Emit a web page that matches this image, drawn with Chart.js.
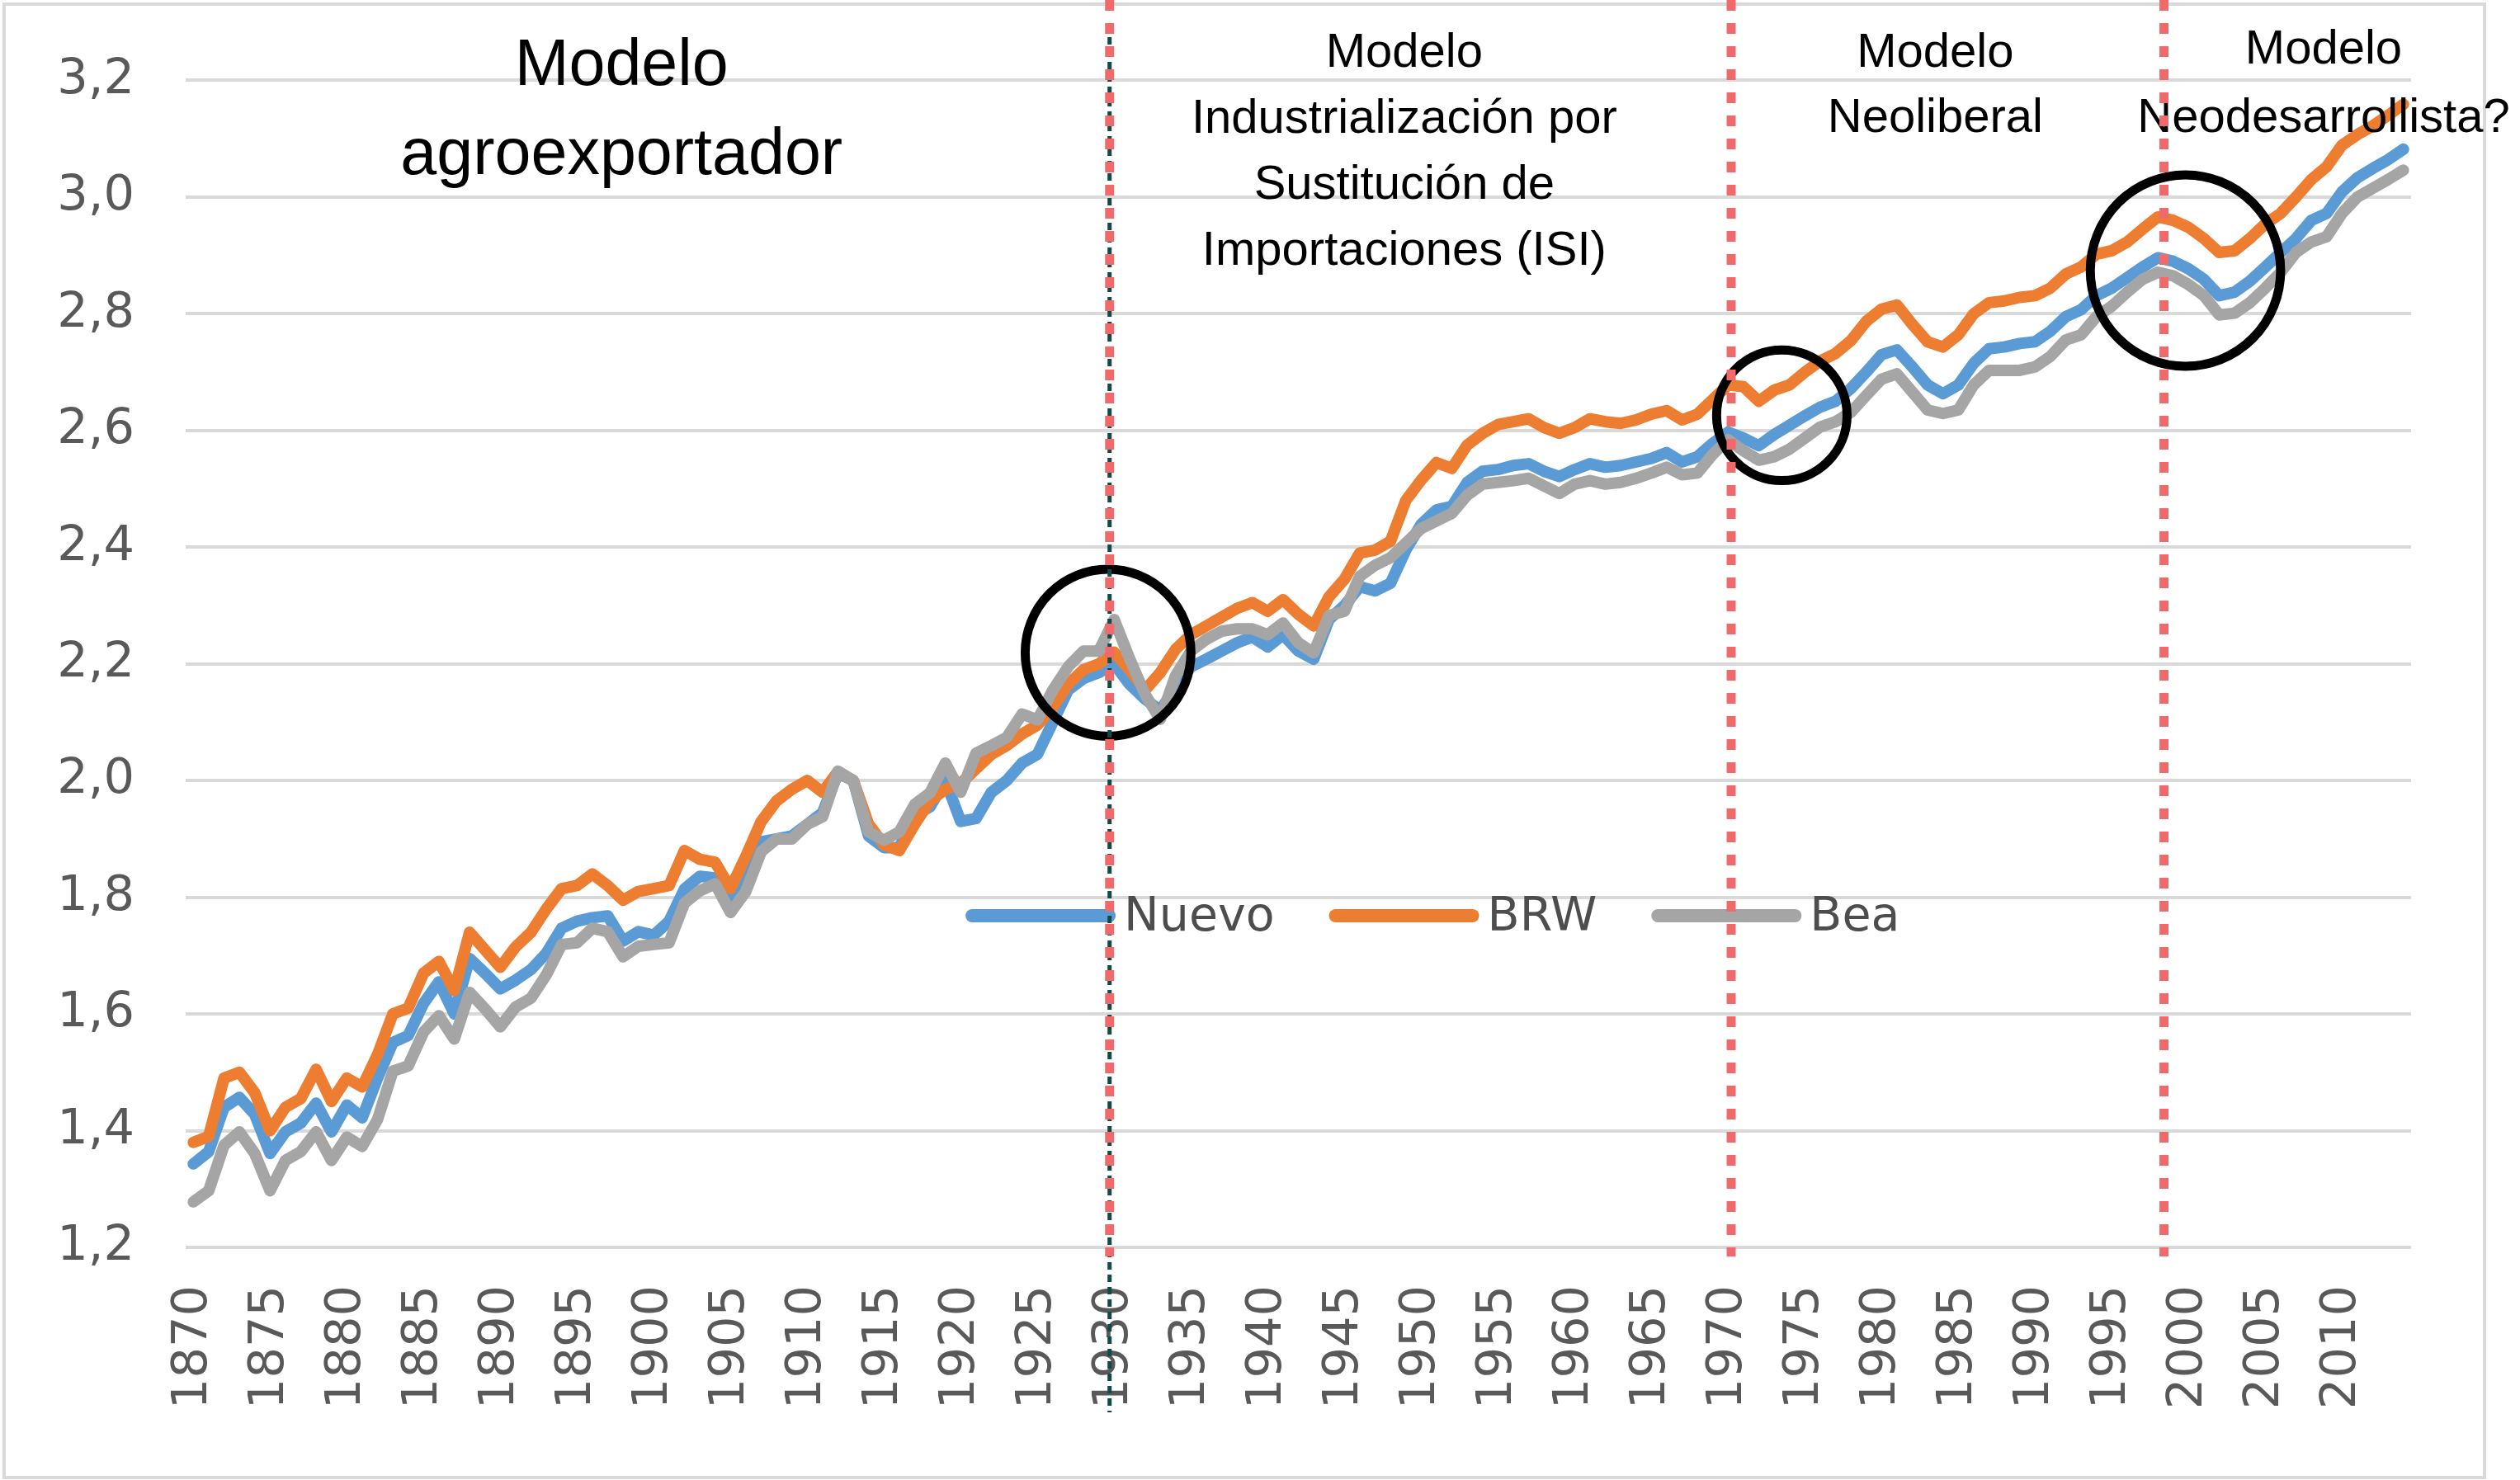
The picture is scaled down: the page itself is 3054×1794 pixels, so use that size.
<!DOCTYPE html>
<html>
<head>
<meta charset="utf-8">
<script src="https://cdn.jsdelivr.net/npm/chart.js@4.4.1/dist/chart.umd.min.js"></script>
<style>
  html, body { margin: 0; padding: 0; background: #fff; }
  #wrap { width: 3054px; height: 1794px; }
</style>
</head>
<body>
<div id="wrap"><canvas id="grafico" width="3054" height="1794"></canvas></div>
<script>
// años 1870 - 2014
const firstYear = 1870
const lastYear = 2014
const years = []
for (let a = firstYear; a <= lastYear; a++) years.push(String(a))

const seriesNames = ['Nuevo', 'BRW', 'Bea']

const nuevo = [
  1.343, 1.364, 1.440, 1.457, 1.428, 1.361, 1.398, 1.413, 1.447, 1.398,
  1.444, 1.422, 1.490, 1.551, 1.563, 1.618, 1.655, 1.600, 1.695, 1.670,
  1.643, 1.658, 1.676, 1.704, 1.747, 1.759, 1.765, 1.768, 1.725, 1.741,
  1.735, 1.759, 1.814, 1.836, 1.833, 1.796, 1.830, 1.895, 1.900, 1.905,
  1.925, 1.945, 2.013, 2.000, 1.905, 1.885, 1.885, 1.940, 1.955, 2.000,
  1.930, 1.935, 1.980, 2.000, 2.030, 2.045, 2.100, 2.155, 2.175, 2.185,
  2.200, 2.165, 2.140, 2.120, 2.160, 2.195, 2.208, 2.222, 2.236, 2.246,
  2.229, 2.250, 2.222, 2.208, 2.276, 2.300, 2.332, 2.325, 2.338, 2.395,
  2.439, 2.464, 2.470, 2.511, 2.530, 2.533, 2.540, 2.543, 2.530, 2.521,
  2.533, 2.543, 2.537, 2.540, 2.546, 2.552, 2.562, 2.546, 2.555, 2.578,
  2.597, 2.587, 2.574, 2.593, 2.609, 2.625, 2.640, 2.650, 2.672, 2.700,
  2.730, 2.738, 2.709, 2.678, 2.663, 2.678, 2.715, 2.740, 2.743, 2.749,
  2.752, 2.770, 2.795, 2.807, 2.831, 2.844, 2.862, 2.880, 2.896, 2.890,
  2.877, 2.859, 2.831, 2.837, 2.856, 2.880, 2.905, 2.929, 2.960, 2.972,
  3.009, 3.033, 3.049, 3.064, 3.082
]

const brw = [
  1.380, 1.390, 1.490, 1.500, 1.465, 1.400, 1.440, 1.455, 1.505, 1.450,
  1.490, 1.475, 1.530, 1.600, 1.610, 1.670, 1.690, 1.640, 1.740, 1.710,
  1.680, 1.715, 1.740, 1.780, 1.815, 1.820, 1.840, 1.820, 1.795, 1.810,
  1.815, 1.820, 1.880, 1.865, 1.860, 1.815, 1.870, 1.930, 1.965, 1.985,
  2.000, 1.980, 2.015, 2.000, 1.925, 1.890, 1.880, 1.925, 1.965, 1.985,
  1.995, 2.020, 2.045, 2.060, 2.080, 2.095, 2.125, 2.165, 2.190, 2.200,
  2.220, 2.190, 2.155, 2.185, 2.225, 2.250, 2.265, 2.280, 2.295, 2.305,
  2.290, 2.310, 2.285, 2.265, 2.315, 2.345, 2.390, 2.395, 2.410, 2.480,
  2.515, 2.545, 2.535, 2.575, 2.595, 2.610, 2.615, 2.620, 2.605, 2.595,
  2.605, 2.620, 2.615, 2.612, 2.618, 2.628, 2.634, 2.618, 2.628, 2.653,
  2.678, 2.675, 2.650, 2.669, 2.678, 2.700, 2.719, 2.732, 2.754, 2.787,
  2.808, 2.815, 2.782, 2.752, 2.743, 2.764, 2.800, 2.819, 2.822, 2.828,
  2.831, 2.844, 2.868, 2.880, 2.902, 2.908, 2.923, 2.945, 2.966, 2.960,
  2.948, 2.929, 2.905, 2.908, 2.929, 2.954, 2.972, 3.000, 3.030, 3.052,
  3.089, 3.107, 3.122, 3.140, 3.159
]

const bea = [
  1.278, 1.297, 1.375, 1.398, 1.361, 1.297, 1.349, 1.364, 1.398, 1.349,
  1.389, 1.373, 1.419, 1.502, 1.511, 1.569, 1.597, 1.557, 1.637, 1.609,
  1.578, 1.612, 1.627, 1.667, 1.719, 1.722, 1.747, 1.741, 1.698, 1.716,
  1.719, 1.722, 1.790, 1.811, 1.823, 1.774, 1.810, 1.878, 1.900, 1.900,
  1.925, 1.938, 2.016, 2.000, 1.912, 1.898, 1.912, 1.959, 1.979, 2.030,
  1.980, 2.047, 2.060, 2.074, 2.114, 2.104, 2.155, 2.195, 2.222, 2.222,
  2.276, 2.209, 2.148, 2.105, 2.180, 2.222, 2.242, 2.256, 2.260, 2.260,
  2.250, 2.270, 2.236, 2.219, 2.283, 2.290, 2.350, 2.369, 2.382, 2.407,
  2.432, 2.445, 2.458, 2.489, 2.508, 2.511, 2.514, 2.518, 2.505, 2.492,
  2.508, 2.514, 2.508, 2.511, 2.518, 2.527, 2.537, 2.524, 2.527, 2.559,
  2.584, 2.565, 2.549, 2.555, 2.568, 2.587, 2.606, 2.615, 2.631, 2.660,
  2.688, 2.697, 2.666, 2.635, 2.629, 2.635, 2.678, 2.703, 2.703, 2.703,
  2.709, 2.727, 2.755, 2.764, 2.795, 2.813, 2.837, 2.859, 2.871, 2.865,
  2.850, 2.831, 2.798, 2.801, 2.819, 2.844, 2.871, 2.905, 2.923, 2.932,
  2.972, 3.000, 3.015, 3.030, 3.046
]

// lineas de corte entre modelos (años)
const periodLines = [1929.7, 1970.2, 1998.4]

// circulos: centro (año, valor) y radios (años, valor)
const circleYears = [1929.6, 1973.5, 1999.8]
const circleValues = [2.219, 2.626, 2.874]
const circleSpanYears = [5.4, 4.25, 6.2]
const circleSpanValues = [0.143, 0.112, 0.164]

// textos de los modelos
const notes = [
  { lines: ['Modelo', 'agroexportador'], year: 1897.9, value: 3.1915, step: 108, size: 79 },
  { lines: ['Modelo', 'Industrialización por', 'Sustitución de', 'Importaciones (ISI)'], year: 1948.9, value: 3.2226, step: 80, size: 58 },
  { lines: ['Modelo', 'Neoliberal'], year: 1983.5, value: 3.2226, step: 79, size: 58 },
  { lines: ['Modelo', 'Neodesarrollista?'], year: 2008.8, value: 3.229, step: 83, size: 58 }
]

const colores = ['#5B9BD5', '#ED7D31', '#A5A5A5']

const marcas = {
  id: 'marcas',
  beforeDraw(chart) {
    const ctx = chart.ctx
    ctx.save()
    ctx.fillStyle = '#ffffff'
    ctx.fillRect(0, 0, chart.width, chart.height)
    ctx.strokeStyle = '#d9d9d9'
    ctx.lineWidth = 4
    ctx.strokeRect(5, 5, chart.width - 48, chart.height - 8)
    ctx.restore()
  },
  afterDatasetsDraw(chart) {
    const { ctx, chartArea: area, scales: { x, y } } = chart
    const px = ano => x.getPixelForValue(ano - firstYear)
    const py = v => y.getPixelForValue(v)

    // circulos negros
    ctx.save()
    ctx.strokeStyle = '#000000'
    ctx.lineWidth = 11
    circleYears.forEach((ano, i) => {
      const cx = px(ano)
      const cy = py(circleValues[i])
      const rx = px(ano + circleSpanYears[i]) - cx
      const ry = cy - py(circleValues[i] + circleSpanValues[i])
      ctx.beginPath()
      ctx.ellipse(cx, cy, rx, ry, 0, 0, Math.PI * 2)
      ctx.stroke()
    })
    ctx.restore()

    // leyenda
    ctx.save()
    ctx.font = '57px "DejaVu Sans"'
    ctx.textBaseline = 'middle'
    let lx = area.left + area.width * 0.3534
    const ly = area.top + area.height * 0.7158
    chart.data.datasets.forEach(ds => {
      ctx.strokeStyle = ds.borderColor
      ctx.lineWidth = 16
      ctx.lineCap = 'round'
      ctx.beginPath()
      ctx.moveTo(lx, ly)
      ctx.lineTo(lx + 166, ly)
      ctx.stroke()
      ctx.fillStyle = '#4d4d4d'
      ctx.fillText(ds.label, lx + 184, ly + 3)
      lx += 184 + ctx.measureText(ds.label).width + 74
    })
    ctx.restore()

    // textos
    ctx.save()
    ctx.fillStyle = '#000000'
    ctx.textAlign = 'center'
    ctx.textBaseline = 'alphabetic'
    notes.forEach(n => {
      ctx.font = n.size + 'px "Liberation Sans"'
      const cx = px(n.year)
      const base = py(n.value)
      n.lines.forEach((t, k) => ctx.fillText(t, cx, base + k * n.step))
    })
    ctx.restore()

    // lineas punteadas
    ctx.save()
    const bottom = area.bottom + 11
    periodLines.forEach((ano, i) => {
      const lxp = px(ano)
      if (i === 0) {
        ctx.strokeStyle = '#124a48'
        ctx.lineWidth = 5
        ctx.setLineDash([9, 6])
        ctx.beginPath()
        ctx.moveTo(lxp, 30)
        ctx.lineTo(lxp, area.bottom + 200)
        ctx.stroke()
      }
      ctx.strokeStyle = '#F06A6C'
      ctx.lineWidth = 11
      ctx.setLineDash([13, 15])
      ctx.beginPath()
      ctx.moveTo(lxp, 0)
      ctx.lineTo(lxp, bottom)
      ctx.stroke()
    })
    ctx.restore()
  }
}

const fuenteEje = { family: 'DejaVu Sans', size: 59 }

new Chart(document.getElementById('grafico'), {
  type: 'line',
  data: {
    labels: years,
    datasets: [
      { label: seriesNames[0], data: nuevo, borderColor: colores[0], backgroundColor: colores[0], borderWidth: 14, order: 3 },
      { label: seriesNames[1], data: brw, borderColor: colores[1], backgroundColor: colores[1], borderWidth: 14, order: 2 },
      { label: seriesNames[2], data: bea, borderColor: colores[2], backgroundColor: colores[2], borderWidth: 14, order: 1 }
    ]
  },
  options: {
    responsive: false,
    animation: false,
    devicePixelRatio: 1,
    layout: { padding: { top: 94, right: 132, left: 0, bottom: 0 } },
    elements: {
      line: { borderWidth: 14, tension: 0, borderJoinStyle: 'round', borderCapStyle: 'round' },
      point: { radius: 0 }
    },
    plugins: {
      legend: { display: false },
      tooltip: { enabled: false }
    },
    scales: {
      x: {
        offset: true,
        grid: { display: false, drawTicks: false },
        border: { display: false },
        ticks: {
          autoSkip: false,
          minRotation: 90,
          maxRotation: 90,
          padding: 46,
          color: '#595959',
          font: fuenteEje,
          callback: function (v) {
            const a = years[v]
            return Number(a) % 5 === 0 ? a : ''
          }
        },
        afterFit: s => { s.height = 282 }
      },
      y: {
        min: 1.2,
        max: 3.2,
        grid: { color: '#d9d9d9', lineWidth: 4, drawTicks: false },
        border: { display: false },
        ticks: {
          stepSize: 0.2,
          padding: 62,
          color: '#595959',
          font: fuenteEje,
          callback: v => v.toFixed(1).replace('.', ',')
        },
        afterFit: s => { s.width = 225 }
      }
    }
  },
  plugins: [marcas]
})
</script>
</body>
</html>
